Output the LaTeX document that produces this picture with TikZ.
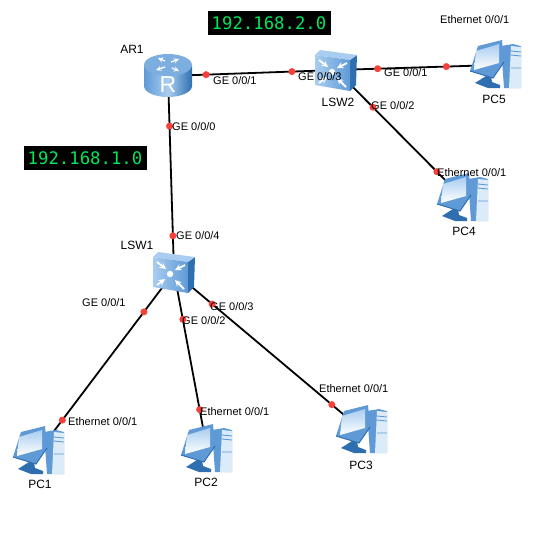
\documentclass[tikz,border=0pt]{standalone}
\usepackage{fontspec}
\setmainfont{Liberation Sans}
\newfontfamily\netmono{DejaVu Sans Mono}
\usepackage{xcolor}
\usepackage{tikz}
\definecolor{enspdot}{HTML}{f8403a}
\definecolor{enspgreen}{HTML}{00e65a}
\definecolor{enspdark}{HTML}{2f6fb0}
\definecolor{enspmid}{HTML}{5f9ad6}
\definecolor{enspsoft}{HTML}{a9cdf0}
\definecolor{enspwash}{HTML}{dcebf8}
\tikzset{
  hub/.style={inner sep=0pt,minimum size=0pt},
  link/.style={black,line width=1.8pt},
  portdot/.style={circle,fill=enspdot,inner sep=0pt,minimum size=7pt},
  portlabel/.style={anchor=west,inner sep=0pt,font=\fontsize{11}{11}\selectfont},
  devlabel/.style={inner sep=0pt,font=\fontsize{12}{12}\selectfont},
  netlabel/.style={fill=black,text=enspgreen,minimum width=123pt,minimum height=24pt,inner sep=0pt,font=\netmono\fontsize{17.3}{17.3}\selectfont},
  glyph/.style={white,line width=1.8pt,-stealth},
  pcicon/.pic={
    \fill[enspmid] (5,-19) -- (17,-21) -- (25,-19) -- (25,23) -- (8,23) -- cycle;
    \fill[enspwash] (15,-19) -- (25,-18) -- (25,23) -- (13,23) -- cycle;
    \draw[enspmid,line width=0.9pt] (15,-14) -- (25,-13) (15,-10) -- (25,-9) (15,3) -- (25,3);
    \fill[enspdark] (-21,18) -- (-10,11) -- (-5,11) -- (-4,17) -- (4,20) -- (4,23) -- (-8,23) -- cycle;
    \fill[enspmid] (-18,-19) -- (6,-25) -- (8,-3) -- (-3,13) -- (-26,6) -- cycle;
    \shade[top color=enspsoft,bottom color=white] (-20,-14) -- (3,-21) -- (3,-2) -- (-22,5) -- cycle;
    \draw[enspdark,line width=1pt] (-26,6) -- (-3,13) -- (8,-3);
  },
  swicon/.pic={
    \fill[enspdark] (14,-10) -- (21,-15) -- (20,15) -- (14,21) -- cycle;
    \fill[enspsoft] (-21,-15) -- (-16,-20) -- (21,-15) -- (14,-10) -- cycle;
    \shade[left color=enspsoft,right color=enspmid] (-21,-15) -- (14,-10) -- (14,21) -- (-21,15) -- cycle;
    \draw[glyph] (-17,-10) -- (-8,-3);
    \draw[glyph] (11,-7) -- (1,-2);
    \draw[glyph] (-17,13) -- (-9,7);
    \draw[glyph] (10,17) -- (1,8);
    \fill[white] (-4,2) circle[radius=3.2];
  },
  routericon/.pic={
    \shade[left color=enspmid,right color=enspdark,middle color=enspsoft] (-24,-11) -- (-24,10) arc[start angle=180,end angle=0,x radius=24,y radius=11] -- (24,-11) -- cycle;
    \fill[enspmid!60!enspsoft] (0,-11) ellipse[x radius=24,y radius=11];
    \draw[glyph,line width=1.3pt] (-3,-15) -- (-10,-18);
    \draw[glyph,line width=1.3pt] (3,-14) -- (11,-17);
    \draw[glyph,line width=1.3pt] (-3,-9) -- (-12,-6);
    \draw[glyph,line width=1.3pt] (4,-8) -- (11,-5);
    \node[white,inner sep=0pt,font=\fontsize{23}{23}\selectfont] (routerR) at (0,9) {R};
  }
}
\begin{document}
\begin{tikzpicture}[x=1pt,y=-1pt]
  \useasboundingbox (0,0) rectangle (553,550);

  \node[hub] (ar1) at (168,76) {};
  \node[hub] (lsw1) at (174,272) {};
  \node[hub] (lsw2) at (336,70) {};
  \node[hub] (pc1) at (39,451) {};
  \node[hub] (pc2) at (207,449) {};
  \node[hub] (pc3) at (362,430) {};
  \node[hub] (pc4) at (463,198) {};
  \node[hub] (pc5) at (496,65) {};

  \draw[link] (ar1) -- node[portdot,pos=0.226] (d1) {} node[portdot,pos=0.738] (d2) {} (lsw2);
  \draw[link] (ar1) -- node[portdot,pos=0.255] (d3) {} node[portdot,pos=0.816] (d4) {} (lsw1);
  \draw[link] (lsw1) -- node[portdot,pos=0.222] (d5) {} node[portdot,pos=0.828] (d6) {} (pc1);
  \draw[link] (lsw1) -- node[portdot,pos=0.267] (d7) {} node[portdot,pos=0.778] (d8) {} (pc2);
  \draw[link] (lsw1) -- node[portdot,pos=0.202] (d9) {} node[portdot,pos=0.84] (d10) {} (pc3);
  \draw[link] (lsw2) -- node[portdot,pos=0.29] (d11) {} node[portdot,pos=0.795] (d12) {} (pc4);
  \draw[link] (lsw2) -- node[portdot,pos=0.26] (d13) {} node[portdot,pos=0.69] (d14) {} (pc5);

  \pic at (ar1) {routericon};
  \pic at (lsw1) {swicon};
  \pic at (lsw2) {swicon};
  \foreach \n in {pc1,pc2,pc3,pc4,pc5}
    \pic at (\n) {pcicon};

  \node[netlabel] (net2) at (269,23) {192.168.2.0};
  \node[netlabel] (net1) at (85,158) {192.168.1.0};

  \node[devlabel] (ar1label) at (132,49) {AR1};
  \node[devlabel] (lsw1label) at (137,245) {LSW1};
  \node[devlabel] (lsw2label) at (338,102) {LSW2};
  \node[devlabel] (pc1label) at (40,484) {PC1};
  \node[devlabel] (pc2label) at (206,482) {PC2};
  \node[devlabel] (pc3label) at (361,465) {PC3};
  \node[devlabel] (pc4label) at (464,231) {PC4};
  \node[devlabel] (pc5label) at (494,99) {PC5};

  \node[portlabel] (p1) at (213,81) {GE 0/0/1};
  \node[portlabel] (p2) at (298,77) {GE 0/0/3};
  \node[portlabel] (p3) at (172,127) {GE 0/0/0};
  \node[portlabel] (p4) at (176,236) {GE 0/0/4};
  \node[portlabel] (p5) at (384,73) {GE 0/0/1};
  \node[portlabel] (p6) at (371,106) {GE 0/0/2};
  \node[portlabel] (p7) at (82,303) {GE 0/0/1};
  \node[portlabel] (p8) at (182,321) {GE 0/0/2};
  \node[portlabel] (p9) at (210,307) {GE 0/0/3};
  \node[portlabel] (e1) at (68,422) {Ethernet 0/0/1};
  \node[portlabel] (e2) at (200,412) {Ethernet 0/0/1};
  \node[portlabel] (e3) at (319,389) {Ethernet 0/0/1};
  \node[portlabel] (e4) at (437,173) {Ethernet 0/0/1};
  \node[portlabel] (e5) at (440,20) {Ethernet 0/0/1};
\end{tikzpicture}
\end{document}
